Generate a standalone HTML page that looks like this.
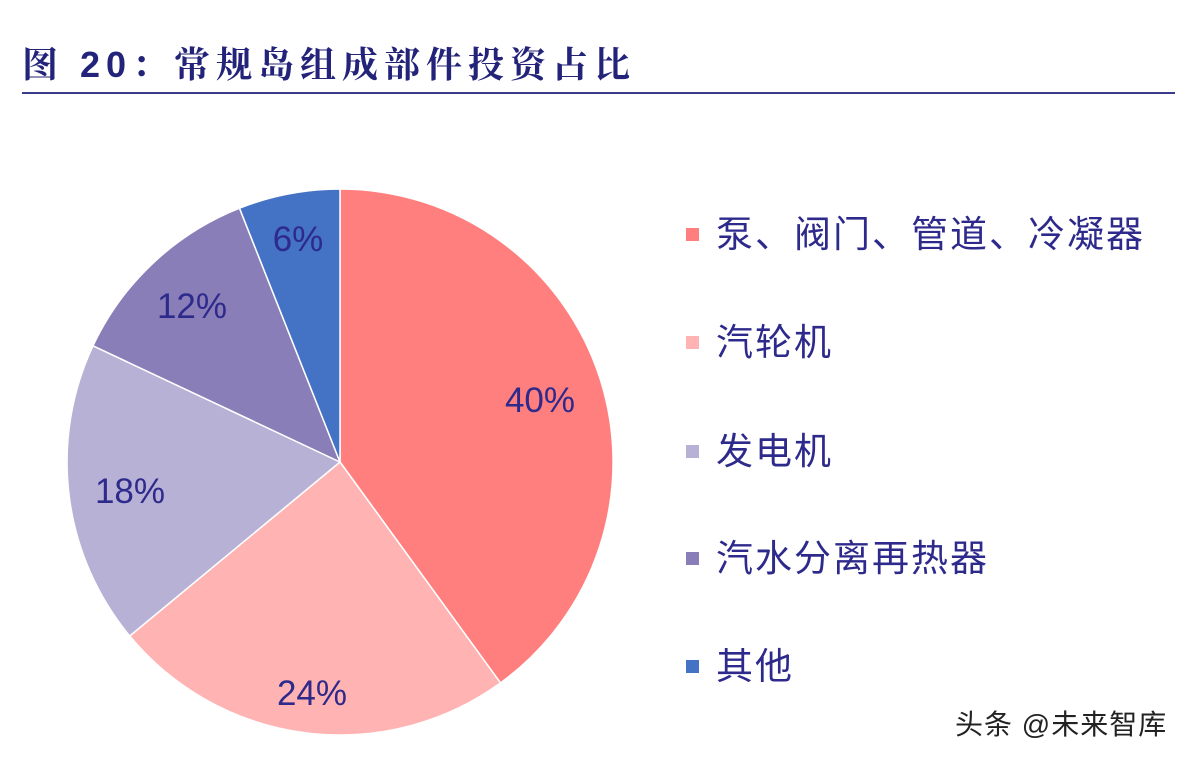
<!DOCTYPE html>
<html><head><meta charset="utf-8"><style>
body{margin:0;width:1194px;height:762px;background:#fff;overflow:hidden;position:relative;font-family:"Liberation Sans","Noto Sans CJK SC",sans-serif}
.t{position:absolute;left:22px;top:37px;font-size:36px;font-weight:bold;color:#23237a;letter-spacing:6px;white-space:nowrap;font-family:"Liberation Sans","Noto Serif CJK SC",serif}
.line{position:absolute;left:22px;top:92px;width:1153px;height:2px;background:#3a3a8a}
.lg{position:absolute;left:686px;font-size:37px;letter-spacing:2px;color:#2e2a8c;white-space:nowrap;line-height:40px}
.lg i{display:inline-block;width:13px;height:13px;margin-right:17px;vertical-align:middle;position:relative;top:-3px}
.wm{position:absolute;left:955px;top:703px;font-size:28px;letter-spacing:1px;color:#222;white-space:nowrap}
</style></head><body>
<div class="t">图 20：常规岛组成部件投资占比</div>
<div class="line"></div>
<svg width="1194" height="762" style="position:absolute;left:0;top:0">
<g stroke="#fff" stroke-width="1.5">
<path d="M340,462 L340,189 A273,273 0 0 1 500.5,682.9 Z" fill="#ff7f7f"/>
<path d="M340,462 L500.5,682.9 A273,273 0 0 1 129.7,636 Z" fill="#ffb3b2"/>
<path d="M340,462 L129.7,636 A273,273 0 0 1 93,345.8 Z" fill="#b7b1d6"/>
<path d="M340,462 L93,345.8 A273,273 0 0 1 239.5,208.2 Z" fill="#897eb8"/>
<path d="M340,462 L239.5,208.2 A273,273 0 0 1 340,189 Z" fill="#4472c4"/>
</g>
<g font-family="Liberation Sans, sans-serif" font-size="35" fill="#2e2a8c" text-anchor="middle">
<text x="540" y="412">40%</text>
<text x="312" y="705">24%</text>
<text x="130" y="503">18%</text>
<text x="192" y="318">12%</text>
<text x="298" y="251">6%</text>
</g>
</svg>
<div class="lg" style="top:215px"><i style="background:#ff7f7f"></i>泵、阀门、管道、冷凝器</div>
<div class="lg" style="top:323px"><i style="background:#ffb3b2"></i>汽轮机</div>
<div class="lg" style="top:432px"><i style="background:#b7b1d6"></i>发电机</div>
<div class="lg" style="top:539px"><i style="background:#897eb8"></i>汽水分离再热器</div>
<div class="lg" style="top:647px"><i style="background:#4472c4"></i>其他</div>
<div class="wm">头条 @未来智库</div>
</body></html>
